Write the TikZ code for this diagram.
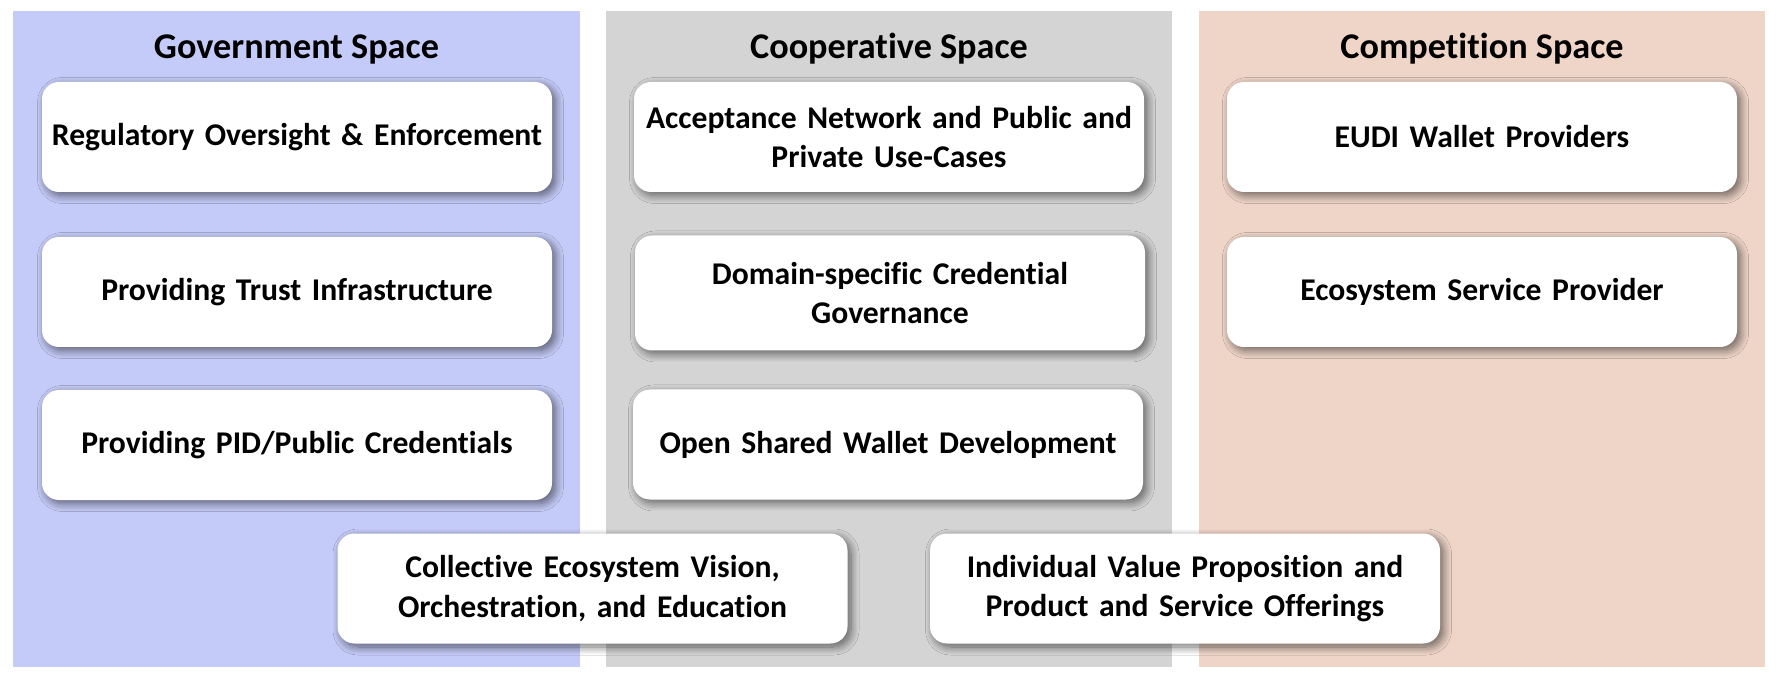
\documentclass[tikz,border=0pt]{standalone}
\usepackage{fontspec}
\setmainfont{Carlito}[Ligatures=NoCommon]
\definecolor{govblue}{RGB}{197, 203, 248}
\definecolor{coopgray}{RGB}{212, 212, 212}
\definecolor{comppeach}{RGB}{239, 213, 200}
\usepackage{tikz}
\usetikzlibrary{shadows.blur}

\tikzset{
  panelbox/.style={minimum width=5.66cm, minimum height=6.56cm, inner sep=0pt},
  spacetitle/.style={font=\fontsize{10.3}{12}\selectfont\bfseries},
  rolebox/.style={fill=white, rounded corners=0.17cm, minimum width=5.1cm, minimum height=1.1cm,
    text width=5cm, align=center, inner sep=0pt, font=\fontsize{9}{11.2}\selectfont\bfseries,
    blur shadow={shadow xshift=0.035cm, shadow yshift=-0.035cm, shadow blur radius=0.08cm, shadow blur steps=10, shadow opacity=55}}
}

\begin{document}
\begin{tikzpicture}
  \fill[white] (0,0) rectangle (17.78,6.78);
  \useasboundingbox (0,0) rectangle (17.78,6.78);

  % Government space
  \node[panelbox, fill=govblue] (gov) at (2.965, 3.39) {};
  \node[spacetitle] (govtitle) at (2.965, 6.29) {Government Space};
  \node[rolebox] (regulatory) at (2.97, 5.41) {Regulatory Oversight \& Enforcement};
  \node[rolebox] (trust) at (2.97, 3.86) {Providing Trust Infrastructure};
  \node[rolebox] (pid) at (2.97, 2.33) {Providing PID/Public Credentials};

  % Cooperative space
  \node[panelbox, fill=coopgray] (coop) at (8.89, 3.39) {};
  \node[spacetitle] (cooptitle) at (8.89, 6.29) {Cooperative Space};
  \node[rolebox] (acceptance) at (8.89, 5.41) {Acceptance Network and Public and\\Private Use-Cases};
  \node[rolebox, minimum height=1.15cm] (domain) at (8.9, 3.85) {Domain-specific Credential\\Governance};
  \node[rolebox] (openwallet) at (8.88, 2.335) {Open Shared Wallet Development};

  % Competition space
  \node[panelbox, fill=comppeach] (comp) at (14.82, 3.39) {};
  \node[spacetitle] (comptitle) at (14.82, 6.29) {Competition Space};
  \node[rolebox] (eudi) at (14.82, 5.41) {EUDI Wallet Providers};
  \node[rolebox] (service) at (14.82, 3.86) {Ecosystem Service Provider};

  % Across the spaces
  \node[rolebox] (vision) at (5.925, 0.895) {Collective Ecosystem Vision,\\Orchestration, and Education};
  \node[rolebox] (offerings) at (11.85, 0.895) {Individual Value Proposition and\\Product and Service Offerings};
\end{tikzpicture}
\end{document}
